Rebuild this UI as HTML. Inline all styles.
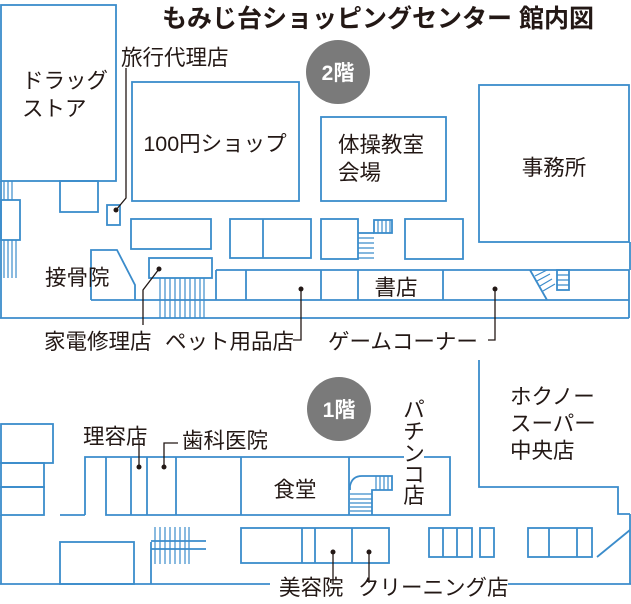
<!DOCTYPE html>
<html><head><meta charset="utf-8"><style>
html,body{margin:0;padding:0;background:#fff;}
svg{display:block;}
text{font-family:"Liberation Sans","Noto Sans CJK JP",sans-serif;fill:#231815;}
</style></head><body>
<svg width="631" height="604" viewBox="0 0 631 604" xmlns="http://www.w3.org/2000/svg">
<g fill="none" stroke="#3b8ccb" stroke-width="1.8">
<rect x="1" y="5" width="115" height="176"/>
<rect x="60" y="181" width="38" height="31"/>
<rect x="1" y="200" width="19" height="40"/>
<line x1="1" y1="181" x2="1" y2="318"/>
<line x1="0" y1="318" x2="629" y2="318"/>
<line x1="91" y1="300" x2="629" y2="300"/>
<line x1="629" y1="270" x2="629" y2="318"/>
<rect x="107" y="205" width="13" height="20"/>
<rect x="132" y="82" width="167" height="119"/>
<rect x="131" y="219" width="80" height="30"/>
<rect x="230" y="219" width="81" height="39"/>
<line x1="263" y1="219" x2="263" y2="258"/>
<polyline points="91,300 91,250 117,250 135,285 135,300"/>
<rect x="149" y="258" width="63" height="20"/>
<line x1="216" y1="270" x2="629" y2="270"/>
<line x1="216" y1="270" x2="216" y2="300"/>
<line x1="246" y1="270" x2="246" y2="300"/>
<line x1="321" y1="270" x2="321" y2="300"/>
<line x1="358" y1="270" x2="358" y2="300"/>
<line x1="443" y1="270" x2="443" y2="300"/>
<rect x="321" y="219" width="37" height="40"/>
<rect x="405" y="219" width="58" height="40"/>
<rect x="321" y="117" width="125" height="84"/>
<rect x="479" y="85" width="150" height="157"/>
<line x1="630" y1="242" x2="630" y2="270"/>
<line x1="530" y1="270" x2="547" y2="300"/>
<rect x="557" y="270" width="12" height="20"/>
<rect x="374" y="220" width="18" height="13"/>
<line x1="358" y1="233" x2="374" y2="233"/>
<rect x="1" y="424" width="52" height="39"/>
<rect x="1" y="463" width="43" height="24"/>
<rect x="1" y="487" width="43" height="28"/>
<line x1="1" y1="515" x2="1" y2="584"/>
<line x1="60" y1="515" x2="85" y2="515"/>
<line x1="0" y1="584" x2="270" y2="584"/>
<line x1="508" y1="584" x2="631" y2="584"/>
<polyline points="479,360 479,487 618,487 618,514 630,514"/>
<line x1="630" y1="514" x2="630" y2="584"/>
<line x1="630" y1="530" x2="597" y2="557"/>
<polyline points="85,515 85,457 450,457 450,515 106,515 106,457"/>
<line x1="131" y1="457" x2="131" y2="515"/>
<line x1="147" y1="457" x2="147" y2="515"/>
<line x1="176" y1="457" x2="176" y2="515"/>
<line x1="241" y1="457" x2="241" y2="515"/>
<line x1="349" y1="457" x2="349" y2="515"/>
<path d="M350,490 L350,486 Q352,476 362,476 L392,476 L392,490 L372,490 L372,515"/>
<rect x="60" y="542" width="74" height="42"/>
<line x1="151" y1="542" x2="151" y2="584"/>
<line x1="151" y1="541" x2="206" y2="541"/>
<line x1="151" y1="549" x2="206" y2="549"/>
<rect x="241" y="528" width="148" height="35"/>
<line x1="302" y1="528" x2="302" y2="563"/>
<line x1="315" y1="528" x2="315" y2="563"/>
<line x1="352" y1="528" x2="352" y2="563"/>
<rect x="429" y="528" width="43" height="29"/>
<line x1="443" y1="528" x2="443" y2="557"/>
<line x1="457" y1="528" x2="457" y2="557"/>
<rect x="480" y="528" width="14" height="29"/>
<rect x="528" y="528" width="64" height="29"/>
<line x1="549" y1="528" x2="549" y2="557"/>
<line x1="577" y1="528" x2="577" y2="557"/>
</g>
<g stroke="#3b8ccb" stroke-width="1.2">
<path d="M4,181V200M8,181V200M12,181V200M4,240V278M8,240V278M12,240V278M16,240V278"/>
<path d="M160,278V318M165,278V318M170,278V318M175,278V318M180,278V318M185,278V318M190,278V318M195,278V318M200,278V318M204,278V318"/>
<path d="M358,238H374M358,243H374M358,248H374M358,253H374M358,258H374"/>
<path d="M378,220V233M382,220V233M386,220V233M390,220V233"/>
<path d="M557,275H569M557,280H569M557,285H569"/>
<path d="M535,276L547,270M537,281L550,274M540,286L552,279M543,291L555,284"/>
<path d="M350,494H372M350,499H372M350,503H372M350,507H372M350,511H372"/>
<path d="M376,476V490M380,476V490M384,476V490M388,476V490"/>
<path d="M155,527V564M160,527V564M165,527V564M170,527V564M175,527V564M180,527V564M185,527V564M189,527V564"/>
</g>
<circle cx="338" cy="72" r="32" fill="#7a7a7a"/>
<text x="338" y="80" font-size="21" font-weight="bold" text-anchor="middle" style="fill:#fff">2階</text>
<circle cx="339" cy="409" r="32" fill="#7a7a7a"/>
<text x="339" y="417" font-size="21" font-weight="bold" text-anchor="middle" style="fill:#fff">1階</text>
<g stroke="#231815" stroke-width="1.3" fill="none">
<polyline points="126,68 126,198 116,210"/>
<polyline points="159,269 143,290 143,325"/>
<polyline points="301,289 301,340 293,340"/>
<polyline points="495,289 495,340 488,340"/>
<polyline points="139,440 139,467"/>
<polyline points="178,443 164,443 164,467"/>
<polyline points="333,552 333,583"/>
<polyline points="369,552 369,583"/>
</g>
<g fill="#231815">
<circle cx="116" cy="210" r="2.5"/><circle cx="159" cy="269" r="2.5"/>
<circle cx="301" cy="289" r="2.5"/><circle cx="495" cy="289" r="2.5"/>
<circle cx="139" cy="467" r="2.5"/><circle cx="164" cy="467" r="2.5"/>
<circle cx="333" cy="552" r="2.5"/><circle cx="369" cy="552" r="2.5"/>
</g>
<text x="378" y="27" font-size="25" font-weight="bold" text-anchor="middle">もみじ台ショッピングセンター 館内図</text>
<g font-size="21.5">
<text x="22" y="88">ドラッグ</text>
<text x="22" y="116">ストア</text>
<text x="121" y="65">旅行代理店</text>
<text x="215" y="151" text-anchor="middle">100円ショップ</text>
<text x="338" y="152">体操教室</text>
<text x="338" y="180">会場</text>
<text x="554" y="175" text-anchor="middle">事務所</text>
<text x="45" y="285">接骨院</text>
<text x="396" y="295" text-anchor="middle">書店</text>
<text x="44" y="349">家電修理店</text>
<text x="165" y="349">ペット用品店</text>
<text x="328" y="349">ゲームコーナー</text>
<text x="83" y="444">理容店</text>
<text x="182" y="448">歯科医院</text>
<text x="295" y="497" text-anchor="middle">食堂</text>
<text x="510" y="404">ホクノー</text>
<text x="510" y="431">スーパー</text>
<text x="510" y="458">中央店</text>
<text x="279" y="595">美容院</text>
<text x="358" y="595">クリーニング店</text>
</g>
<rect x="404" y="452" width="20" height="10" fill="#fff"/>
<g font-size="21.5" text-anchor="middle">
<text x="414" y="417">パ</text>
<text x="414" y="439">チ</text>
<text x="414" y="461">ン</text>
<text x="414" y="482">コ</text>
<text x="414" y="503">店</text>
</g>
</svg>
</body></html>
